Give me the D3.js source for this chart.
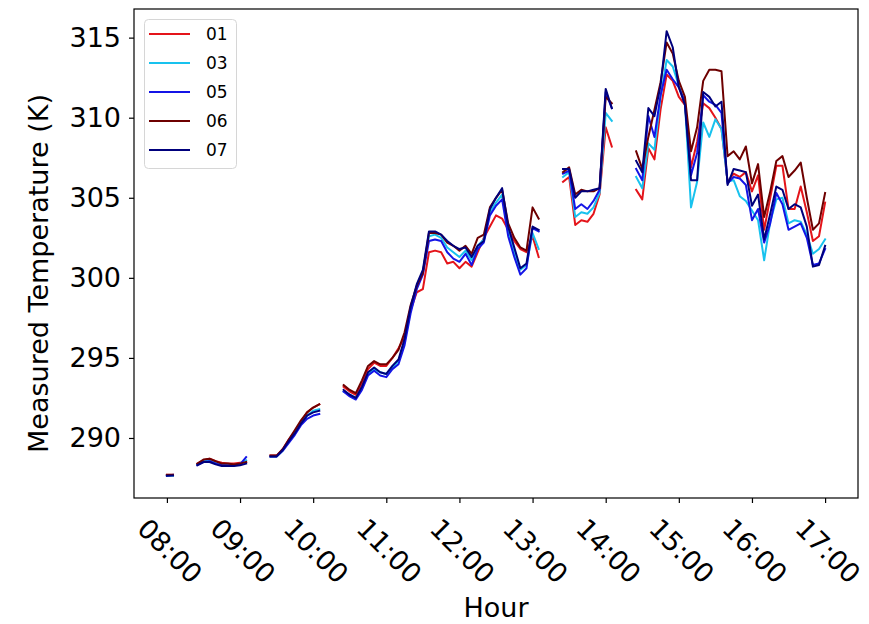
<!DOCTYPE html>
<html>
<head>
<meta charset="utf-8">
<script src="https://cdn.jsdelivr.net/npm/d3@7"></script>
<style>
  html, body { margin: 0; padding: 0; background: #fff; }
  svg { display: block; }
  text { font-family: "DejaVu Sans", sans-serif; fill: #000; }
</style>
</head>
<body>
<svg id="chart" width="869" height="624"></svg>
<script>
// Sample times (5-minute logging with regular gaps)
const times = [
  "08:00","08:05",
  "08:25","08:30","08:35","08:40","08:45","08:50","08:55","09:00","09:05",
  "09:25","09:30","09:35","09:40","09:45","09:50","09:55","10:00","10:05",
  "10:25","10:30","10:35","10:40","10:45","10:50","10:55","11:00","11:05","11:10","11:15",
  "11:20","11:25","11:30","11:35","11:40","11:45","11:50","11:55","12:00","12:05","12:10",
  "12:15","12:20","12:25","12:30","12:35","12:40","12:45","12:50","12:55","13:00","13:05",
  "13:25","13:30","13:35","13:40","13:45","13:50","13:55","14:00","14:05",
  "14:25","14:30","14:35","14:40","14:45","14:50","14:55","15:00","15:05","15:10","15:15",
  "15:20","15:25","15:30","15:35","15:40","15:45","15:50","15:55","16:00","16:05","16:10",
  "16:15","16:20","16:25","16:30","16:35","16:40","16:45","16:50","16:55","17:00"
];

// Measured temperature (K) per sensor
const sensor01 = [
  287.7, 287.7,
  288.4, 288.6, 288.7, 288.55, 288.45, 288.4, 288.4, 288.45, 288.5,
  288.9, 288.9, 289.3, 289.9, 290.4, 291.0, 291.6, 291.9, 292.1,
  293.2, 292.9, 292.7, 293.4, 294.3, 294.7, 294.5, 294.5, 295.0, 295.6, 296.3,
  298.0, 299.1, 299.3, 301.6, 301.7, 301.6, 300.9, 301.0, 300.6, 301.0, 300.7,
  301.6, 302.5, 303.2, 303.9, 303.7, 303.0, 302.3, 301.8, 301.6, 302.6, 301.3,
  306.0, 306.3, 303.3, 303.6, 303.5, 304.0, 305.2, 309.4, 308.2,
  305.5, 304.9, 308.1, 307.4, 310.5, 312.7, 312.3, 311.3, 310.8, 306.9, 308.5,
  310.9, 310.6, 310.0, 309.3, 306.0, 306.5, 306.3, 306.6, 305.4, 306.4, 303.0,
  305.0, 307.0, 307.0, 304.3, 304.3, 305.7, 304.1, 302.3, 302.6, 304.7
];
const sensor03 = [
  287.65, 287.65,
  288.35, 288.55, 288.6, 288.45, 288.35, 288.35, 288.3, 288.4, 288.6,
  288.85, 288.85, 289.2, 289.8, 290.3, 290.9, 291.4, 291.7, 291.8,
  292.9, 292.7, 292.5, 293.1, 294.0, 294.3, 294.1, 294.0, 294.4, 294.8, 296.0,
  298.0, 299.4, 300.4, 302.6, 302.7, 302.5, 301.9, 301.6, 301.3, 301.7, 301.1,
  302.0, 302.4, 304.1, 304.7, 305.2, 302.9, 301.6, 300.5, 300.8, 302.8, 301.8,
  306.3, 306.6, 303.8, 304.1, 304.0, 304.4, 305.3, 310.3, 309.8,
  306.3, 305.6, 308.4, 308.0, 311.3, 313.6, 313.2, 312.0, 310.9, 304.4, 306.0,
  309.7, 308.8, 309.9, 309.3, 306.0, 306.1, 305.1, 304.8, 304.2, 303.6, 301.1,
  303.5, 304.9, 305.0, 303.4, 303.6, 303.5, 302.7, 301.5, 301.8, 302.4
];
const sensor05 = [
  287.65, 287.7,
  288.3, 288.5, 288.55, 288.4, 288.3, 288.3, 288.3, 288.35, 288.8,
  288.85, 288.85, 289.2, 289.7, 290.2, 290.8, 291.2, 291.4, 291.5,
  292.9, 292.6, 292.4, 293.0, 293.9, 294.2, 293.9, 293.8, 294.3, 294.6, 295.8,
  297.8, 299.3, 300.2, 302.3, 302.4, 302.3, 301.6, 301.2, 301.0, 301.5, 300.8,
  301.8, 302.2, 303.9, 304.5, 304.9, 302.6, 301.3, 300.2, 300.6, 303.1, 302.9,
  306.5, 306.7, 304.3, 304.6, 304.3, 304.8, 305.5, 311.6, 310.6,
  306.8, 306.1, 310.1, 308.8, 311.4, 313.0, 312.4, 311.9, 311.0, 306.4, 307.8,
  311.4, 311.0, 310.8, 310.3, 305.9, 306.3, 306.2, 305.8, 303.6, 304.3, 302.2,
  303.4, 305.3, 304.6, 303.0, 303.2, 303.4, 302.5, 300.8, 300.9, 301.8
];
const sensor06 = [
  287.7, 287.7,
  288.4, 288.65, 288.7, 288.55, 288.4, 288.4, 288.35, 288.4, 288.5,
  288.9, 288.9, 289.3, 289.9, 290.5, 291.1, 291.6, 291.9, 292.1,
  293.3, 293.0, 292.8, 293.6, 294.5, 294.8, 294.6, 294.6, 295.0, 295.5, 296.6,
  298.3, 299.5, 300.3, 302.8, 302.8, 302.7, 302.2, 302.0, 301.7, 302.0, 301.5,
  302.5, 302.7, 304.4, 305.0, 305.5, 303.4, 302.5, 301.9, 301.7, 304.4, 303.7,
  306.6, 306.9, 305.2, 305.5, 305.4, 305.4, 305.6, 311.3, 310.9,
  307.9, 306.8, 308.8, 310.5, 312.2, 314.7, 314.0, 312.3, 311.3, 307.9, 309.4,
  312.3, 313.0, 313.0, 312.9, 307.6, 307.9, 307.4, 308.2, 305.9, 307.1, 303.8,
  305.4, 307.3, 307.6, 306.3, 306.7, 307.2, 305.0, 303.0, 303.4, 305.3
];
const sensor07 = [
  287.64, 287.65,
  288.3, 288.5, 288.5, 288.35, 288.25, 288.25, 288.25, 288.3, 288.4,
  288.85, 288.85, 289.25, 289.8, 290.3, 290.9, 291.4, 291.6, 291.7,
  293.0, 292.7, 292.5, 293.2, 294.1, 294.4, 294.1, 294.0, 294.5, 294.9, 296.2,
  298.2, 299.6, 300.5, 302.9, 302.9, 302.7, 302.3, 302.0, 301.8, 301.9, 301.3,
  302.0, 302.3, 304.3, 305.0, 305.6, 303.2, 301.9, 300.6, 300.9, 303.2, 303.0,
  306.8, 306.8, 305.0, 305.4, 305.4, 305.5, 305.6, 311.8, 310.6,
  307.3, 306.6, 310.6, 310.1, 312.0, 315.4, 314.4, 311.9, 310.8, 306.1, 306.1,
  311.6, 311.3, 310.7, 311.0, 305.8, 306.8, 306.7, 306.6, 304.5, 305.2, 302.4,
  304.0, 305.7, 305.5, 304.3, 304.6, 304.4, 303.2, 300.7, 300.8, 302.0
];

const seriesNames = ["01", "03", "05", "06", "07"];
const seriesValues = [sensor01, sensor03, sensor05, sensor06, sensor07];
const seriesColors = ["#e4141a", "#18c2ee", "#1414e6", "#6e0000", "#00007c"];

const xTickLabels = ["08:00","09:00","10:00","11:00","12:00","13:00","14:00","15:00","16:00","17:00"];
const yTickValues = [290, 295, 300, 305, 310, 315];

// Layout
const plot = { left: 134, right: 858, top: 9, bottom: 498 };
const svg = d3.select("#chart");

const toHours = t => { const [h, m] = t.split(":").map(Number); return h + m / 60; };
const tHours = times.map(toHours);

// Domains padded by 5% like a default data-limits margin
const xExt = d3.extent(tHours);
const xPad = (xExt[1] - xExt[0]) * 0.05;
const allVals = seriesValues.flat();
const yExt = d3.extent(allVals);
const yPad = (yExt[1] - yExt[0]) * 0.05;

const x = d3.scaleLinear().domain([xExt[0] - xPad, xExt[1] + xPad]).range([plot.left, plot.right]);
const y = d3.scaleLinear().domain([yExt[0] - yPad, yExt[1] + yPad]).range([plot.bottom, plot.top]);

// Split the record into continuous runs wherever a sample is missing
function runs(values) {
  const out = [];
  let cur = [];
  values.forEach((v, i) => {
    if (i > 0 && (tHours[i] - tHours[i - 1]) > 6 / 60) { out.push(cur); cur = []; }
    cur.push([tHours[i], v]);
  });
  if (cur.length) out.push(cur);
  return out;
}

const line = d3.line().x(d => x(d[0])).y(d => y(d[1]));

const lines = svg.append("g");
seriesValues.forEach((vals, si) => {
  lines.selectAll(null)
    .data(runs(vals))
    .enter().append("path")
    .attr("d", line)
    .attr("fill", "none")
    .attr("stroke", seriesColors[si])
    .attr("stroke-width", 2)
    .attr("stroke-linejoin", "round")
    .attr("stroke-linecap", "square");
});

// Frame
svg.append("rect")
  .attr("x", plot.left).attr("y", plot.top)
  .attr("width", plot.right - plot.left).attr("height", plot.bottom - plot.top)
  .attr("fill", "none").attr("stroke", "#000").attr("stroke-width", 1.2);

// X axis (ticks from scale, rotated labels)
const xTickVals = xTickLabels.map(toHours);
const xAxis = d3.axisBottom(x).tickValues(xTickVals).tickSize(5).tickFormat("");
const gx = svg.append("g").attr("transform", `translate(0,${plot.bottom})`).call(xAxis);
gx.select(".domain").remove();
gx.selectAll(".tick line").attr("stroke", "#000").attr("stroke-width", 1.2);

svg.append("g").selectAll("text")
  .data(xTickLabels)
  .enter().append("text")
  .attr("transform", d => `translate(${x(toHours(d)) + 3},551) rotate(45)`)
  .attr("text-anchor", "middle")
  .attr("dominant-baseline", "central")
  .attr("font-size", 27)
  .text(d => d);

// Y axis
const yAxis = d3.axisLeft(y).tickValues(yTickValues).tickSize(5).tickPadding(8).tickFormat(d3.format("d"));
const gy = svg.append("g").attr("transform", `translate(${plot.left},0)`).call(yAxis);
gy.select(".domain").remove();
gy.selectAll(".tick line").attr("stroke", "#000").attr("stroke-width", 1.2);
gy.selectAll(".tick text")
  .attr("font-family", "DejaVu Sans, sans-serif")
  .attr("font-size", 27)
  .attr("fill", "#000");

// Axis titles
svg.append("text")
  .attr("x", (plot.left + plot.right) / 2).attr("y", 617)
  .attr("text-anchor", "middle")
  .attr("font-size", 27)
  .text("Hour");

svg.append("text")
  .attr("transform", `translate(48,${(plot.top + plot.bottom) / 2 + 20}) rotate(-90)`)
  .attr("text-anchor", "middle")
  .attr("font-size", 27)
  .text("Measured Temperature (K)");

// Legend
const lg = svg.append("g");
lg.append("rect")
  .attr("x", 144.5).attr("y", 19.5).attr("width", 92).attr("height", 149)
  .attr("rx", 4).attr("fill", "#fff").attr("fill-opacity", 0.8)
  .attr("stroke", "#d6d6d6").attr("stroke-width", 1);
seriesNames.forEach((name, i) => {
  const yy = 34 + i * 29;
  lg.append("line")
    .attr("x1", 149).attr("x2", 190).attr("y1", yy).attr("y2", yy)
    .attr("stroke", seriesColors[i]).attr("stroke-width", 2);
  lg.append("text")
    .attr("x", 206).attr("y", yy)
    .attr("dominant-baseline", "central")
    .attr("font-size", 17)
    .text(name);
});
</script>
</body>
</html>
